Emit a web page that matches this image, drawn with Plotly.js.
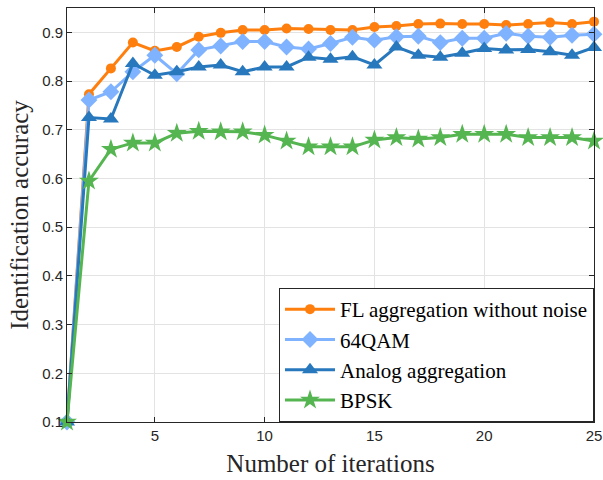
<!DOCTYPE html>
<html>
<head>
<meta charset="utf-8">
<script src="https://cdn.plot.ly/plotly-3.0.1.min.js"></script>
<style>html,body{margin:0;padding:0;background:#fff;}#chart{width:603px;height:480px;}</style>
</head>
<body>
<div id="chart"></div>
<script>
const iterations = [1,2,3,4,5,6,7,8,9,10,11,12,13,14,15,16,17,18,19,20,21,22,23,24,25];
const flNoNoise = [0.100,0.773,0.826,0.879,0.862,0.870,0.891,0.899,0.905,0.905,0.908,0.907,0.905,0.905,0.911,0.913,0.917,0.918,0.917,0.917,0.915,0.917,0.920,0.917,0.922];
const qam64 = [0.100,0.761,0.778,0.819,0.853,0.815,0.864,0.872,0.881,0.881,0.870,0.866,0.877,0.890,0.884,0.891,0.892,0.879,0.888,0.888,0.898,0.892,0.890,0.894,0.896];
const analog = [0.100,0.725,0.722,0.836,0.812,0.819,0.829,0.833,0.819,0.829,0.829,0.849,0.845,0.850,0.833,0.870,0.853,0.849,0.857,0.867,0.864,0.865,0.860,0.853,0.869];
const bpsk = [0.100,0.595,0.660,0.673,0.673,0.693,0.697,0.696,0.696,0.689,0.677,0.665,0.665,0.665,0.679,0.684,0.681,0.684,0.691,0.691,0.691,0.684,0.684,0.684,0.677];
const seriesNames = ['FL aggregation without noise','64QAM','Analog aggregation','BPSK'];
const xTicks = [5,10,15,20,25];
const yTicks = [0.1,0.2,0.3,0.4,0.5,0.6,0.7,0.8,0.9];

function tr(y, name, color, symbol, size) {
  return {x: iterations, y: y, name: name, type: 'scatter', mode: 'lines+markers', cliponaxis: false,
    line: {color: color, width: 3}, marker: {color: color, symbol: symbol, size: size}};
}
const data = [
  tr(flNoNoise, seriesNames[0], '#FF7F0E', 'circle', 10),
  tr(qam64, seriesNames[1], '#80B3FF', 'diamond', 13),
  tr(analog, seriesNames[2], '#2878BD', 'triangle-up', 14),
  tr(bpsk, seriesNames[3], '#55B550', 'star', 15)
];
const axisCommon = {
  showline: true, mirror: 'ticks', linecolor: '#262626', linewidth: 1,
  ticks: 'inside', ticklen: 5, tickcolor: '#262626',
  showgrid: true, gridcolor: '#e3e3e3', gridwidth: 1, zeroline: false,
  tickfont: {family: 'Liberation Sans, Arial, sans-serif', size: 15, color: '#262626'}
};
const layout = {
  width: 603, height: 480,
  margin: {l: 67, r: 9, t: 8, b: 58},
  paper_bgcolor: '#fff', plot_bgcolor: '#fff',
  xaxis: Object.assign({}, axisCommon, {range: [1, 25], tickvals: xTicks,
    title: {text: 'Number of iterations', standoff: 11, font: {family: 'Liberation Serif, Times New Roman, serif', size: 25, color: '#262626'}}}),
  yaxis: Object.assign({}, axisCommon, {range: [0.1, 0.95], tickvals: yTicks, tickformat: '.1f',
    title: {text: 'Identification accuracy', standoff: 6, font: {family: 'Liberation Serif, Times New Roman, serif', size: 25, color: '#262626'}}}),
  legend: {x: 1, y: 0, xanchor: 'right', yanchor: 'bottom', bgcolor: '#fff',
    bordercolor: '#262626', borderwidth: 1, tracegroupgap: 0, itemwidth: 50,
    font: {family: 'Liberation Serif, Times New Roman, serif', size: 21, color: '#000'}},
  showlegend: true
};
Plotly.newPlot('chart', data, layout, {displayModeBar: false, staticPlot: true});
</script>
</body>
</html>
